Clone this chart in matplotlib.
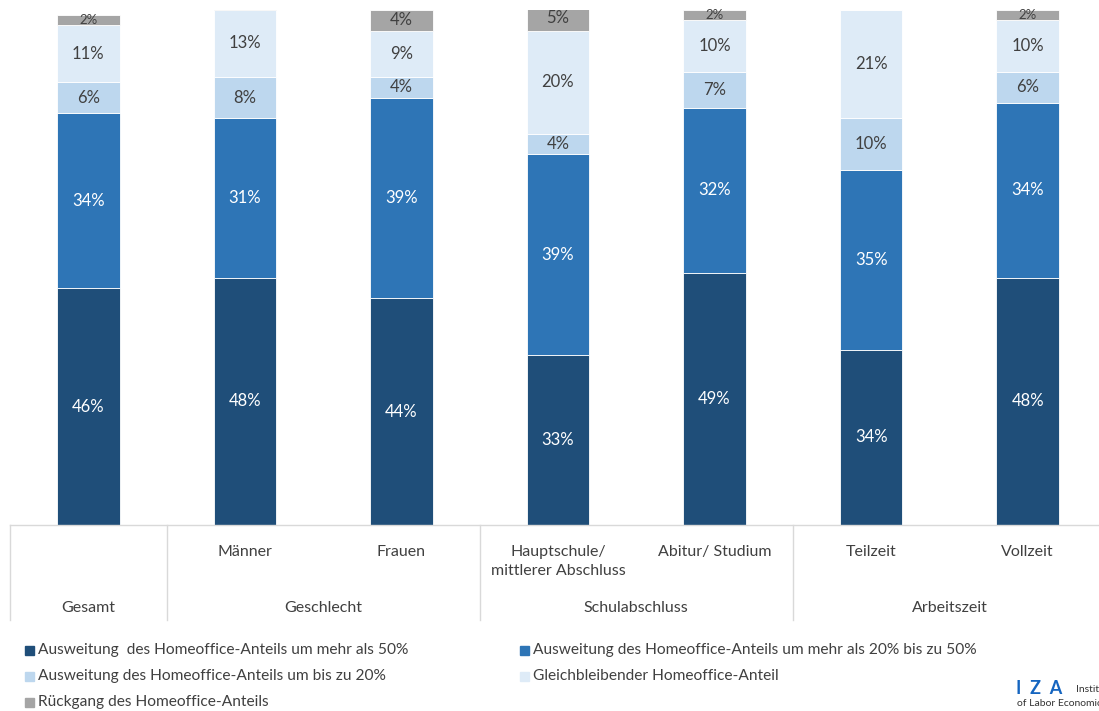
import numpy as np
import matplotlib.pyplot as plt
from matplotlib.patches import Rectangle
from matplotlib.lines import Line2D

plt.rcParams["font.family"] = ["Lato", "DejaVu Sans"]

categories = ["Gesamt", "Männer", "Frauen", "Hauptschule/\nmittlerer Abschluss",
              "Abitur/ Studium", "Teilzeit", "Vollzeit"]
tick_labels = ["", "Männer", "Frauen", "Hauptschule/\nmittlerer Abschluss",
               "Abitur/ Studium", "Teilzeit", "Vollzeit"]
groups = ["Gesamt", "Geschlecht", "Schulabschluss", "Arbeitszeit"]
group_spans = [(0, 0), (1, 2), (3, 4), (5, 6)]

series_names = [
    "Ausweitung  des Homeoffice-Anteils um mehr als 50%",
    "Ausweitung des Homeoffice-Anteils um mehr als 20% bis zu 50%",
    "Ausweitung des Homeoffice-Anteils um bis zu 20%",
    "Gleichbleibender Homeoffice-Anteil",
    "Rückgang des Homeoffice-Anteils",
]
mehr_50 = [46, 48, 44, 33, 49, 34, 48]
bis_50 = [34, 31, 39, 39, 32, 35, 34]
bis_20 = [6, 8, 4, 4, 7, 10, 6]
gleich = [11, 13, 9, 20, 10, 21, 10]
rueckgang = [2, 1, 4, 5, 2, 0, 2]
# the 1% decline among men is drawn but carries no label
show_rueckgang = [True, False, True, True, True, False, True]

series = [mehr_50, bis_50, bis_20, gleich, rueckgang]
colors = ["#1F4E79", "#2E75B6", "#BDD7EE", "#DEEBF7", "#A5A5A5"]
text_colors = ["white", "white", "#404040", "#404040", "#404040"]

W, H = 1099, 711
fig = plt.figure(figsize=(W / 100, H / 100), dpi=100)
# axes runs slightly past the right edge of the figure
ax = fig.add_axes([10 / W, 186 / H, 1096 / W, 515 / H])

x = np.arange(len(categories))
bottom = np.zeros(len(categories))
for k, (vals, col, tcol) in enumerate(zip(series, colors, text_colors)):
    vals = np.array(vals, dtype=float)
    ax.bar(x, vals, 0.4, bottom=bottom, color=col, edgecolor="white", linewidth=0.6)
    for i, v in enumerate(vals):
        if v <= 0 or (k == 4 and not show_rueckgang[i]):
            continue
        fs = 9.5 if v <= 2 else 12
        ax.text(x[i], bottom[i] + v / 2, f"{int(v)}%", ha="center", va="center",
                color=tcol, fontsize=fs)
    bottom += vals

ax.set_xlim(-0.5, 6.5)
ax.set_ylim(0, 100)
ax.axis("off")

# category axis: baseline, separators, tick labels and group labels
ax.plot([-0.5, 6.5], [0, 0], color="#D9D9D9", lw=1, clip_on=False)
sep_pos = [-0.5, 0.5, 2.5, 4.5, 6.5]
for s in sep_pos:
    ax.add_line(Line2D([s, s], [0, -18.5], color="#D9D9D9", lw=1, clip_on=False))
for i, lab in enumerate(tick_labels):
    ax.text(x[i], -3.8, lab, ha="center", va="top", fontsize=11.5, color="#404040",
            linespacing=1.45)
for name, (a, b) in zip(groups, group_spans):
    ax.text((a + b) / 2, -16.2, name, ha="center", va="center", fontsize=11.5,
            color="#404040")

# legend in two columns
legend_pos = [(25, 650), (520, 650), (25, 676), (520, 676), (25, 702)]
for (px, py), name, col in zip(legend_pos, series_names, colors):
    fig.add_artist(Rectangle((px / W, 1 - (py + 4.5) / H), 9 / W, 9 / H,
                             transform=fig.transFigure, color=col))
    fig.text((px + 13) / W, 1 - py / H, name, ha="left", va="center",
             fontsize=11.2, color="#404040")

# IZA mark in the lower right corner
fig.text(1016 / W, 1 - 688 / H, "I  Z  A", fontsize=13, fontweight="bold",
         color="#1565C0", ha="left", va="center")
fig.text(1076 / W, 1 - 689 / H, "Institute", fontsize=7.5, color="#333333",
         ha="left", va="center")
fig.text(1017 / W, 1 - 704 / H, "of Labor Economics", fontsize=7.5,
         color="#333333", ha="left", va="center")

fig.savefig("out.png", dpi=100)
